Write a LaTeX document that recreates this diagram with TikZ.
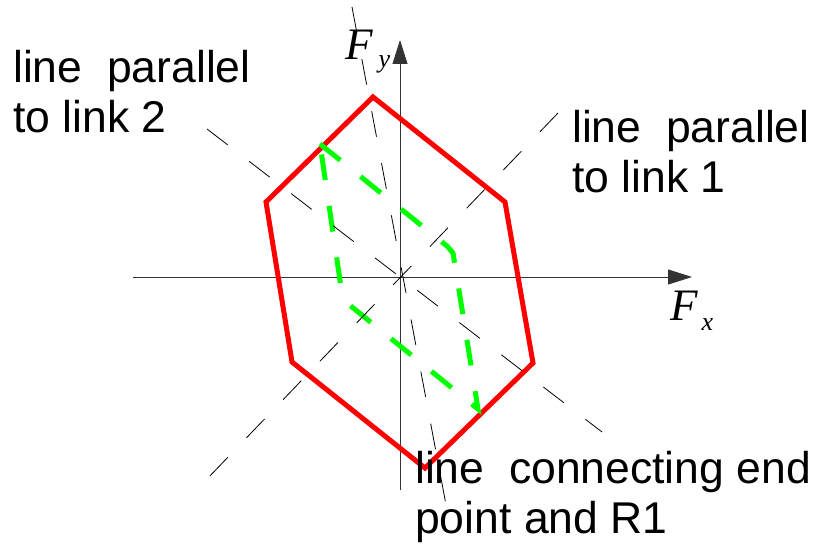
\documentclass[tikz,border=0pt]{standalone}
\usepackage{fontspec}
\setmainfont{Liberation Sans}
\newfontfamily\serifit{Liberation Serif}
\usetikzlibrary{arrows.meta}
\begin{document}
\begin{tikzpicture}[x=1pt,y=-1pt,
  axis/.style={draw=black!80,line width=0.9pt,-{Triangle[length=24pt,width=15pt]}},
  guide/.style={draw=black,line width=0.8pt,dash pattern=on 26pt off 27pt},
  outer/.style={draw=red,line width=5pt,line join=miter},
  inner/.style={draw=green,line width=5pt,dash pattern=on 26pt off 26pt},
  lbl/.style={anchor=base west,inner sep=0pt,font=\fontsize{44.5}{50}\selectfont},
  axlbl/.style={anchor=base west,inner sep=0pt}]
\useasboundingbox (0,0) rectangle (816,545);
% origin and axes
\coordinate (O) at (400,277);
\coordinate (xs) at (133,277);
\coordinate (xe) at (692,277);
\coordinate (ys) at (400,490);
\coordinate (ye) at (400,40);
\draw[axis] (xs) -- (xe);
\draw[axis] (ys) -- (ye);
% red hexagon
\coordinate (r1) at (373,97);
\coordinate (r2) at (505,202);
\coordinate (r3) at (533,363);
\coordinate (r4) at (425,468);
\coordinate (r5) at (292,362);
\coordinate (r6) at (266,202);
\draw[outer] (r1) -- (r2) -- (r3) -- (r4) -- (r5) -- (r6) -- cycle;
% green dashed polygon
\coordinate (g1) at (320,144);
\coordinate (g2) at (447,246);
\coordinate (g3) at (453,253);
\coordinate (g4) at (478,409);
\coordinate (g5) at (347,303);
\coordinate (g6) at (342,294);
\draw[inner] (g1) -- (g2) -- (g3) -- (g4) -- (g5) -- (g6) -- cycle;
% guide lines
\coordinate (a1) at (558,113);
\coordinate (b1) at (207,479);
\coordinate (a2) at (207,129);
\coordinate (b2) at (602,432);
\coordinate (a3) at (352,7);
\coordinate (b3) at (447,510);
\draw[guide] (a1) -- (b1);
\draw[guide] (a2) -- (b2);
\draw[guide] (a3) -- (b3);
% labels
\node[lbl] (t2a) at (13,83) {line\ \ parallel};
\node[lbl] (t2b) at (13,133) {to link 2};
\node[lbl] (t1a) at (572,143) {line\ \ parallel};
\node[lbl] (t1b) at (572,193) {to link 1};
\node[lbl] (t3a) at (415,483) {line\ \ connecting end};
\node[lbl] (t3b) at (415,533) {point and R1};
\node[axlbl] (fy) at (345,60) {{\serifit\fontsize{45}{45}\selectfont\itshape F}\hspace{6pt}\raisebox{-8pt}{\serifit\fontsize{26}{26}\selectfont\itshape y}};
\node[axlbl] (fx) at (670,320) {{\serifit\fontsize{45}{45}\selectfont\itshape F}\hspace{4pt}\raisebox{-10pt}{\serifit\fontsize{26}{26}\selectfont\itshape x}};
\end{tikzpicture}
\end{document}
